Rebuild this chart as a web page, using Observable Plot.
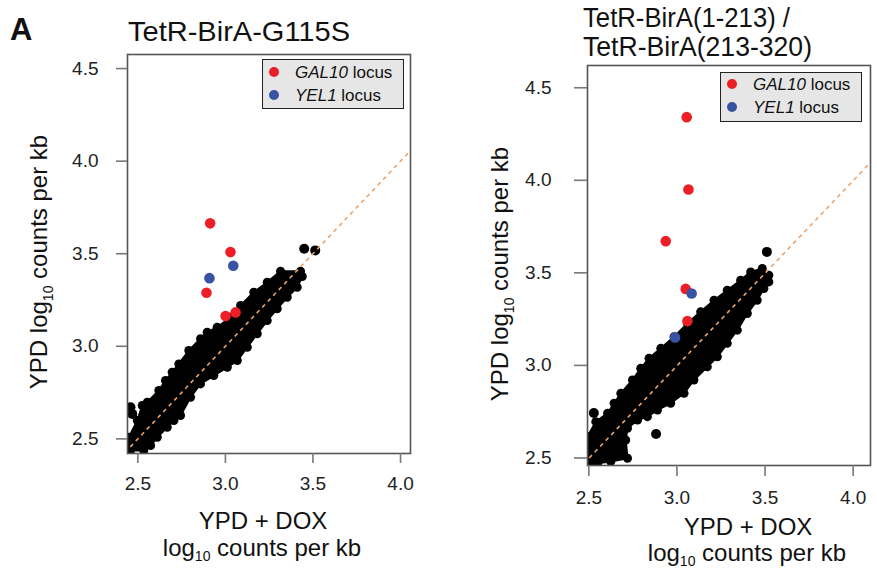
<!DOCTYPE html>
<html><head><meta charset="utf-8">
<script src="https://cdn.jsdelivr.net/npm/d3@7"></script>
<script src="https://cdn.jsdelivr.net/npm/@observablehq/plot@0.6"></script>
<style>
body{margin:0;background:#fff;}
#wrap{position:relative;width:877px;height:571px;overflow:hidden;font-family:"Liberation Sans",Arial,sans-serif;}
.plot{position:absolute;top:0;}
#overlay{position:absolute;left:0;top:0;pointer-events:none;}
</style></head>
<body><div id="wrap"></div>
<script>
// ---------- data (log10 counts per kb) ----------
const xTicks = [2.5, 3.0, 3.5, 4.0];
const yTicks = [2.5, 3.0, 3.5, 4.0, 4.5];
const identityLine = [2.3, 4.7];

// Left panel: TetR-BirA-G115S  (outline of the dense black cloud)
const leftCloudX = [2.525,2.554,2.620,2.658,2.696,2.734,2.791,2.858,2.896,2.953,3.029,3.087,3.162,3.239,3.315,3.429,3.439,3.410,3.353,3.296,3.239,3.182,3.125,3.068,3.011,2.934,2.858,2.801,2.744,2.706,2.668,2.611,2.573,2.534,2.458,2.439,2.449,2.497];
const leftCloudY = [2.680,2.698,2.761,2.815,2.860,2.905,2.977,3.041,3.076,3.103,3.157,3.221,3.292,3.346,3.406,3.406,3.377,3.319,3.265,3.203,3.139,3.068,2.995,2.923,2.887,2.842,2.797,2.725,2.626,2.599,2.563,2.509,2.464,2.437,2.437,2.455,2.509,2.599];
const leftOtherX = [2.458, 2.468, 3.450, 3.513];
const leftOtherY = [2.671, 2.635, 3.527, 3.518];
const leftGalX = [2.913, 3.029, 2.892, 3.001, 3.058];
const leftGalY = [3.664, 3.509, 3.289, 3.163, 3.183];
const leftYelX = [3.045, 2.909];
const leftYelY = [3.435, 3.368];

// Right panel: TetR-BirA(1-213) / TetR-BirA(213-320)
const rightCloudX = [2.447,2.494,2.561,2.598,2.636,2.702,2.749,2.796,2.863,2.938,3.014,3.089,3.165,3.240,3.316,3.373,3.439,3.476,3.476,3.448,3.410,3.354,3.297,3.240,3.184,3.127,3.051,2.995,2.919,2.844,2.787,2.731,2.674,2.664,2.674,2.579,2.504,2.447,2.443];
const rightCloudY = [2.572,2.653,2.698,2.752,2.806,2.878,2.941,2.995,3.049,3.111,3.184,3.246,3.309,3.363,3.417,3.462,3.480,3.444,3.408,3.372,3.309,3.237,3.147,3.076,3.003,2.949,2.878,2.806,2.752,2.716,2.680,2.662,2.617,2.554,2.455,2.437,2.428,2.419,2.500];
const rightOtherX = [3.465, 2.836, 2.483];
const rightOtherY = [3.570, 2.586, 2.700];
const rightGalX = [3.010, 3.020, 2.891, 3.004, 3.014];
const rightGalY = [4.298, 3.907, 3.628, 3.370, 3.196];
const rightYelX = [3.038, 2.944];
const rightYelY = [3.345, 3.108];

// ---------- helpers ----------
const pts = (xs, ys) => xs.map((x, i) => ({x, y: ys[i]}));
const closed = (xs, ys) => { const p = pts(xs, ys); return p.concat([p[0]]); };
const RED = "#ec1f26", BLUE = "#3853a4", DASH = "#eaa36a";
const FONT = "Liberation Sans, Arial, sans-serif";

function panel(o) {
  return Plot.plot({
    width: o.width, height: 571,
    marginLeft: o.ml, marginRight: o.mr, marginTop: o.mt, marginBottom: o.mb,
    x: {domain: o.xd}, y: {domain: o.yd},
    style: {fontFamily: FONT, fontSize: "19px", color: "#222", background: "transparent", overflow: "visible"},
    marks: [
      Plot.line(closed(o.cx, o.cy), {x: "x", y: "y", fill: "black", stroke: "black", strokeWidth: 2, clip: true}),
      Plot.dot(pts(o.cx, o.cy), {x: "x", y: "y", r: 4.5, fill: "black", clip: true}),
      Plot.dot(pts(o.ox, o.oy), {x: "x", y: "y", r: 5, fill: "black", clip: true}),
      Plot.line(identityLine, {x: d => d, y: d => d, stroke: DASH, strokeWidth: 1.6, strokeDasharray: "4,4", strokeLinecap: "butt", clip: true}),
      Plot.dot(pts(o.gx, o.gy), {x: "x", y: "y", r: 5.3, fill: RED}),
      Plot.dot(pts(o.bx, o.by), {x: "x", y: "y", r: 5.3, fill: BLUE}),
      Plot.frame({stroke: "#555", strokeWidth: 1.6}),
      Plot.axisX({ticks: xTicks, tickFormat: ".1f", tickSize: o.xts, tickPadding: o.xtp, dx: o.xdx || 0, stroke: "#777", strokeWidth: 1.6, fill: "#222", label: null}),
      Plot.axisY({ticks: yTicks, tickFormat: ".1f", tickSize: o.yts, tickPadding: o.ytp, dy: o.ydy || 0, stroke: "#777", strokeWidth: 1.6, fill: "#222", label: null})
    ]
  });
}

const wrap = document.getElementById("wrap");
const left = panel({width: 440, ml: 127, mr: 30, mt: 54, mb: 118,
  xd: [2.441, 4.057], yd: [2.421, 4.576],
  cx: leftCloudX, cy: leftCloudY, ox: leftOtherX, oy: leftOtherY,
  gx: leftGalX, gy: leftGalY, bx: leftYelX, by: leftYelY,
  xts: 10, xtp: 13, yts: 11, ytp: 18});
left.classList.add("plot"); left.style.left = "0px";
wrap.appendChild(left);

const right = panel({width: 437, ml: 147, mr: 7, mt: 65, mb: 106,
  xd: [2.447, 4.053], yd: [2.416, 4.577],
  cx: rightCloudX, cy: rightCloudY, ox: rightOtherX, oy: rightOtherY,
  gx: rightGalX, gy: rightGalY, bx: rightYelX, by: rightYelY,
  xts: 11, xtp: 14, xdx: -8, yts: 13, ytp: 23, ydy: 8});
right.classList.add("plot"); right.style.left = "440px";
wrap.appendChild(right);

// ---------- titles, axis titles and legends ----------
const ns = "http://www.w3.org/2000/svg";
const ov = document.createElementNS(ns, "svg");
ov.setAttribute("id", "overlay"); ov.setAttribute("width", 877); ov.setAttribute("height", 571);
ov.setAttribute("font-family", FONT);
ov.innerHTML = `
  <text x="10" y="40" font-size="31" font-weight="bold" fill="#111">A</text>
  <text x="128" y="41" font-size="28" fill="#111" textLength="222" lengthAdjust="spacingAndGlyphs">TetR-BirA-G115S</text>
  <text x="583" y="27" font-size="27" fill="#111" textLength="207" lengthAdjust="spacingAndGlyphs">TetR-BirA(1-213) /</text>
  <text x="583" y="56" font-size="27" fill="#111" textLength="229" lengthAdjust="spacingAndGlyphs">TetR-BirA(213-320)</text>

  <text x="263" y="529" font-size="24" fill="#111" text-anchor="middle">YPD + DOX</text>
  <text x="262" y="556" font-size="24" fill="#111" text-anchor="middle">log<tspan font-size="14" dy="5">10</tspan><tspan dy="-5"> counts per kb</tspan></text>
  <text x="748" y="535" font-size="24" fill="#111" text-anchor="middle">YPD + DOX</text>
  <text x="747" y="561" font-size="24" fill="#111" text-anchor="middle">log<tspan font-size="14" dy="5">10</tspan><tspan dy="-5"> counts per kb</tspan></text>

  <text transform="translate(47,262) rotate(-90)" font-size="24" fill="#111" text-anchor="middle">YPD log<tspan font-size="14" dy="6">10</tspan><tspan dy="-6"> counts per kb</tspan></text>
  <text transform="translate(508,274) rotate(-90)" font-size="24" fill="#111" text-anchor="middle">YPD log<tspan font-size="14" dy="6">10</tspan><tspan dy="-6"> counts per kb</tspan></text>

  <rect x="262.5" y="59.5" width="141" height="49" fill="#e6e6e6" stroke="#222" stroke-width="1"/>
  <circle cx="274" cy="72" r="5" fill="${RED}"/>
  <circle cx="274" cy="95" r="5" fill="${BLUE}"/>
  <text x="295" y="78" font-size="17" fill="#111"><tspan font-style="italic">GAL10</tspan> locus</text>
  <text x="295" y="101" font-size="17" fill="#111"><tspan font-style="italic">YEL1</tspan> locus</text>

  <rect x="720.5" y="72.5" width="141" height="49" fill="#e6e6e6" stroke="#222" stroke-width="1"/>
  <circle cx="732" cy="84" r="5" fill="${RED}"/>
  <circle cx="732" cy="107" r="5" fill="${BLUE}"/>
  <text x="753" y="90" font-size="17" fill="#111"><tspan font-style="italic">GAL10</tspan> locus</text>
  <text x="753" y="113" font-size="17" fill="#111"><tspan font-style="italic">YEL1</tspan> locus</text>
`;
wrap.appendChild(ov);
</script>
</body></html>
